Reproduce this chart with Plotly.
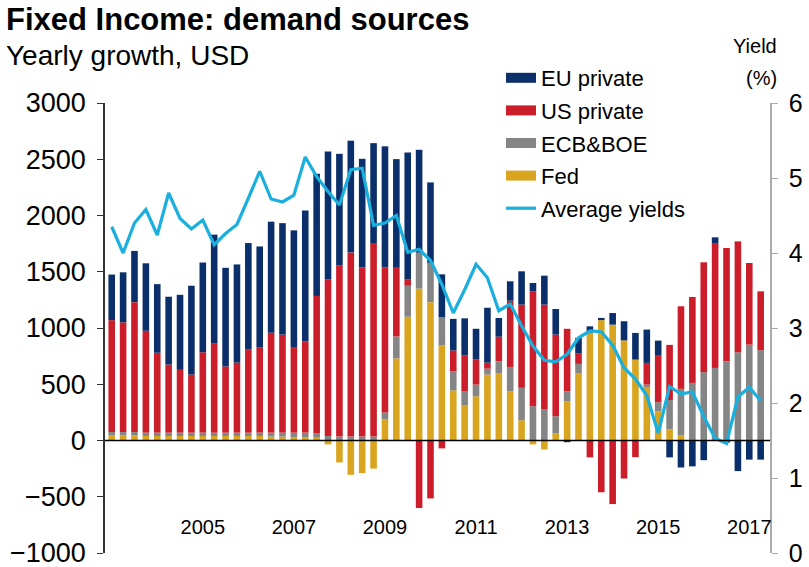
import plotly.graph_objects as go

# Quarterly periods 2003Q1 .. 2017Q2
quarters = [f"{y}Q{q}" for y in range(2003, 2018) for q in range(1, 5)][:58]

fed = [45, 45, 45, 40, 40, 40, 40, 40, 40, 40, 40, 40, 40, 40, 35, 35, 30, 30, 25, -35,
       -195, -305, -290, -250, 190, 730, 1100, 1350, 1230, 845, 445, 310, 393, 586, 595, 438,
       180, -35, -80, 62, 349, 595, 960, 1070, 1030, 890, 719, 470, 260, 100, 44, 0, 0, 0,
       0, 0, 0, 0]
ecb_boe = [30, 30, 30, 30, 30, 30, 30, 30, 30, 30, 30, 30, 30, 30, 35, 35, 40, 40, 40, 40,
           35, 35, 35, 35, 60, 195, 275, 320, 350, 250, 170, 130, 104, 53, 109, 216,
           288, 305, 275, 154, 89, 86, 10, 0, 0, 0, 0, 27, 80, 260, 415, 512, 607, 645,
           704, 784, 852, 802]
us_private = [995, 975, 1155, 905, 710, 605, 558, 516, 714, 791, 588, 622, 742, 760, 888, 871,
              754, 812, 1220, 1393, 1519, 1637, 1505, 1720, 1290, 610, 55, -600, -515, -70,
              185, 315, 222, 53, 219, 589, 740, 1021, 933, 725, 555, 91, -150, -460, -565,
              -338, -148, 193, 420, 490, 734, 764, 977, 1104, 1007, 986, 726, 524]
eu_private = [405, 445, 455, 600, 610, 603, 667, 790, 798, 969, 877, 873, 943, 895, 987, 991,
              1044, 1163, 1086, 1136, 994, 993, 964, 888, 1075, 966, 1130, 914, 714, 382,
              281, 331, 274, 488, 166, 172, 296, 74, 257, 228, -15, 140, 45, 20, 103, 170,
              237, 296, 128, -150, -240, -230, -175, 57, -20, -272, -170, -170]
avg_yield = [4.35, 4.00, 4.40, 4.58, 4.24, 4.80, 4.46, 4.32, 4.44, 4.11, 4.26, 4.38, 4.73, 5.09,
             4.72, 4.68, 4.77, 5.28, 5.02, 4.82, 4.64, 5.11, 5.13, 4.37, 4.40, 4.50, 4.01,
             4.05, 3.90, 3.58, 3.20, 3.51, 3.85, 3.67, 3.23, 3.32, 3.03, 2.76, 2.57, 2.55,
             2.65, 2.87, 2.96, 2.95, 2.77, 2.47, 2.32, 2.10, 1.60, 2.22, 2.12, 2.15, 1.82,
             1.53, 1.46, 2.08, 2.21, 2.03]

year_labels = ["2005", "2007", "2009", "2011", "2013", "2015", "2017"]
left_ticks = [-1000, -500, 0, 500, 1000, 1500, 2000, 2500, 3000]
right_ticks = [0, 1, 2, 3, 4, 5, 6]

x = list(range(len(quarters)))
tickvals = [quarters.index(f"{y}Q1") for y in year_labels]

C_EU = "#0b2f6b"
C_US = "#cc1e2a"
C_ECB = "#858585"
C_FED = "#d9a520"
C_YLD = "#1aafdc"
FONT = "Arial, Liberation Sans, sans-serif"

series = [("Fed", fed, C_FED), ("ECB&BOE", ecb_boe, C_ECB),
          ("US private", us_private, C_US), ("EU private", eu_private, C_EU)]
legend_rank = {"EU private": 1, "US private": 2, "ECB&BOE": 3, "Fed": 4}

fig = go.Figure()
bw = 0.58
for name, vals, col in series:
    fig.add_trace(go.Bar(x=x, y=vals, name=name, marker_color=col, width=bw,
                         marker_line_width=0, showlegend=False))
# legend entries drawn as wide swatches
for name, vals, col in series:
    fig.add_trace(go.Scatter(x=[None], y=[None], name=name, mode="lines",
                             line=dict(color=col, width=15),
                             legendrank=legend_rank[name], legendgroup=name))
fig.add_trace(go.Scatter(x=x, y=avg_yield, name="Average yields", mode="lines",
                         line=dict(color=C_YLD, width=3.2), yaxis="y2",
                         legendrank=5, legendgroup="yld"))

L, R, T, B = 105, 39, 103, 14
W, H = 809, 567
ph = H - T - B
pw = W - L - R

def px(xp):
    return (xp - L) / pw

def py(yp):
    return (H - B - yp) / ph

fig.update_layout(
    width=W, height=H,
    margin=dict(l=L, r=R, t=T, b=B, pad=0, autoexpand=False),
    barmode="relative",
    plot_bgcolor="white", paper_bgcolor="white",
    font=dict(family=FONT, color="black"),
    showlegend=True,
    legend=dict(x=px(501), y=py(57), xanchor="left", yanchor="top",
                font=dict(size=22, family=FONT, color="black"),
                bgcolor="rgba(0,0,0,0)", itemwidth=30,
                traceorder="grouped", tracegroupgap=1),
    xaxis=dict(range=[-0.59, 57.82], tickmode="array", tickvals=tickvals,
               ticktext=year_labels, showline=False, ticks="", showgrid=False,
               zeroline=False, anchor="free", position=py(513), automargin=False,
               tickfont=dict(size=20, family=FONT, color="black")),
    yaxis=dict(range=[-1000, 3000], tickvals=left_ticks, showgrid=False,
               zeroline=False, showline=True, linecolor="#333333", linewidth=1.5,
               ticks="outside", ticklen=6, tickcolor="#333333", automargin=False,
               ticklabeloverflow="allow",
               tickfont=dict(size=27, family=FONT, color="black"),
               ticklabelstandoff=6),
    yaxis2=dict(range=[0, 6], tickvals=right_ticks, overlaying="y", side="right",
                showgrid=False, zeroline=False, showline=True, linecolor="#aaaaaa",
                linewidth=1.5, ticks="outside", ticklen=6, tickcolor="#aaaaaa",
                automargin=False, ticklabeloverflow="allow",
                tickfont=dict(size=25, family=FONT, color="black"),
                ticklabelstandoff=6),
)

fig.add_shape(type="line", xref="paper", yref="y", x0=0, x1=1, y0=0, y1=0,
              line=dict(color="black", width=1.5), layer="above")

fig.add_annotation(text="<b>Fixed Income: demand sources</b>", xref="paper", yref="paper",
                   x=px(4), y=py(0), xanchor="left", yanchor="top", showarrow=False,
                   font=dict(size=31, family=FONT, color="black"))
fig.add_annotation(text="Yearly growth, USD", xref="paper", yref="paper",
                   x=px(4), y=py(38), xanchor="left", yanchor="top", showarrow=False,
                   font=dict(size=28, family=FONT, color="black"))
fig.add_annotation(text="Yield", xref="paper", yref="paper",
                   x=px(779), y=py(33), xanchor="right", yanchor="top", showarrow=False,
                   font=dict(size=20, family=FONT, color="black"))
fig.add_annotation(text="(%)", xref="paper", yref="paper",
                   x=px(779), y=py(65), xanchor="right", yanchor="top", showarrow=False,
                   font=dict(size=20, family=FONT, color="black"))

fig.write_html("out.html")
